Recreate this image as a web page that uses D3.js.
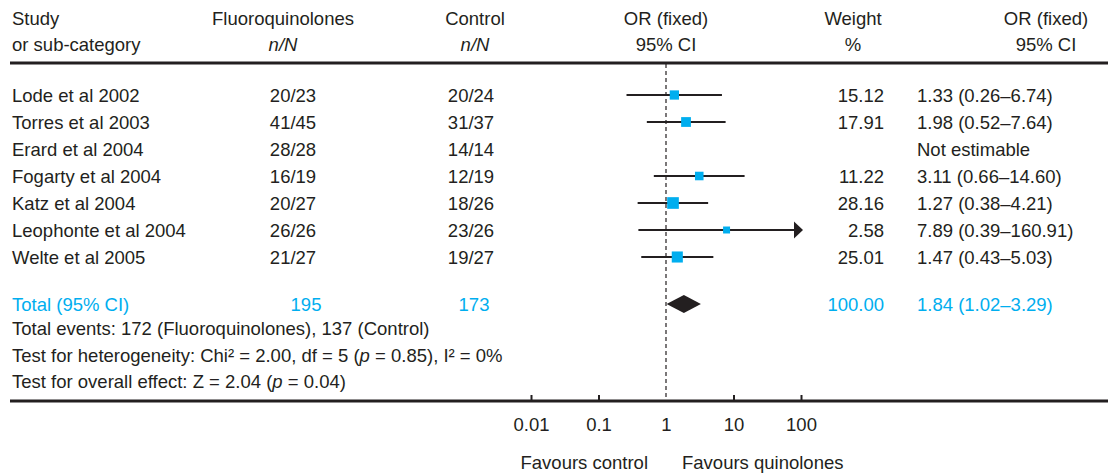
<!DOCTYPE html>
<html>
<head>
<meta charset="utf-8">
<script src="https://cdn.jsdelivr.net/npm/d3@7"></script>
<style>
  body { margin: 0; background: #fff; }
  svg text { font-family: "Liberation Sans", Arial, sans-serif; font-size: 18.5px; fill: #231f20; }
</style>
</head>
<body>
<svg id="chart" width="1119" height="474"></svg>
<script>
// study rows
var studies = ["Lode et al 2002", "Torres et al 2003", "Erard et al 2004", "Fogarty et al 2004",
               "Katz et al 2004", "Leophonte et al 2004", "Welte et al 2005"];
var fqEvents = [20, 41, 28, 16, 20, 26, 21];
var fqTotal  = [23, 45, 28, 19, 27, 26, 27];
var ctEvents = [20, 31, 14, 12, 18, 23, 19];
var ctTotal  = [24, 37, 14, 19, 26, 26, 27];
var weights  = [15.12, 17.91, null, 11.22, 28.16, 2.58, 25.01];
var orValue  = [1.33, 1.98, null, 3.11, 1.27, 7.89, 1.47];
var orLow    = [0.26, 0.52, null, 0.66, 0.38, 0.39, 0.43];
var orHigh   = [6.74, 7.64, null, 14.60, 4.21, 160.91, 5.03];

// pooled result
var totalFq = 195, totalCt = 173, totalWeight = 100.00;
var totalOr = 1.84, totalLow = 1.02, totalHigh = 3.29;

// axis ticks
var axisTicks = [0.01, 0.1, 1, 10, 100];
var axisLabels = ["0.01", "0.1", "1", "10", "100"];

var dark = "#231f20", blue = "#00aeef";
var svg = d3.select("#chart");

var x = d3.scaleLog().domain([0.01, 100]).range([531, 801]);
var y = d3.scalePoint().domain(studies).range([95, 257]);
var boxSize = d3.scaleLinear().domain([0, 30]).range([6.5, 12]);

var fmt2 = d3.format(".2f");
var ciText = function(o, l, h) { return fmt2(o) + " (" + fmt2(l) + "\u2013" + fmt2(h) + ")"; };

// header
var header = svg.append("g");
function headText(xx, yy, txt, anchor, italic) {
	return header.append("text").attr("x", xx).attr("y", yy)
		.attr("text-anchor", anchor || "middle")
		.style("font-style", italic ? "italic" : null)
		.text(txt);
}
headText(12, 25, "Study", "start");
headText(12, 51, "or sub-category", "start");
headText(283, 25, "Fluoroquinolones");
headText(283, 51, "n/N", "middle", true);
headText(475, 25, "Control");
headText(475, 51, "n/N", "middle", true);
headText(666, 25, "OR (fixed)");
headText(666, 51, "95% CI");
headText(853, 25, "Weight");
headText(853, 51, "%");
headText(1046, 25, "OR (fixed)");
headText(1046, 51, "95% CI");

svg.append("line").attr("x1", 10).attr("x2", 1108).attr("y1", 63).attr("y2", 63)
	.attr("stroke", dark).attr("stroke-width", 3);

// reference line at OR = 1
svg.append("line").attr("x1", x(1)).attr("x2", x(1)).attr("y1", 64).attr("y2", 400)
	.attr("stroke", dark).attr("stroke-width", 1.2).attr("stroke-dasharray", "4,3");

// table rows
var rows = svg.append("g").selectAll("g").data(studies).enter().append("g");
rows.append("text").attr("x", 12).attr("y", function(d) { return y(d) + 7; }).text(function(d) { return d; });
rows.append("text").attr("x", 293).attr("y", function(d) { return y(d) + 7; }).attr("text-anchor", "middle")
	.text(function(d, i) { return fqEvents[i] + "/" + fqTotal[i]; });
rows.append("text").attr("x", 471).attr("y", function(d) { return y(d) + 7; }).attr("text-anchor", "middle")
	.text(function(d, i) { return ctEvents[i] + "/" + ctTotal[i]; });
rows.append("text").attr("x", 884).attr("y", function(d) { return y(d) + 7; }).attr("text-anchor", "end")
	.text(function(d, i) { return weights[i] == null ? "" : fmt2(weights[i]); });
rows.append("text").attr("x", 917).attr("y", function(d) { return y(d) + 7; })
	.text(function(d, i) { return orValue[i] == null ? "Not estimable" : ciText(orValue[i], orLow[i], orHigh[i]); });

// confidence intervals
var xMax = x.domain()[1];
rows.filter(function(d, i) { return orValue[i] != null; }).each(function(d) {
	var i = studies.indexOf(d);
	var g = d3.select(this);
	var clipped = orHigh[i] > xMax;
	var xr = clipped ? x(xMax) - 6 : x(orHigh[i]);
	g.append("line").attr("x1", x(orLow[i])).attr("x2", xr).attr("y1", y(d)).attr("y2", y(d))
		.attr("stroke", dark).attr("stroke-width", 2);
	if (clipped) {
		var tip = x(xMax) + 2;
		g.append("path").attr("d", "M" + (tip - 9) + "," + (y(d) - 8.5) + "L" + tip + "," + y(d) + "L" + (tip - 9) + "," + (y(d) + 8.5) + "Z")
			.attr("fill", dark);
	}
	var s = boxSize(weights[i]);
	g.append("rect").attr("x", x(orValue[i]) - s / 2).attr("y", y(d) - s / 2)
		.attr("width", s).attr("height", s).attr("fill", blue);
});

// total row
var totalY = 304;
var tot = svg.append("g");
tot.append("text").attr("x", 12).attr("y", totalY + 7).style("fill", blue).text("Total (95% CI)");
tot.append("text").attr("x", 306).attr("y", totalY + 7).attr("text-anchor", "middle").style("fill", blue).text(totalFq);
tot.append("text").attr("x", 474).attr("y", totalY + 7).attr("text-anchor", "middle").style("fill", blue).text(totalCt);
tot.append("text").attr("x", 884).attr("y", totalY + 7).attr("text-anchor", "end").style("fill", blue).text(fmt2(totalWeight));
tot.append("text").attr("x", 917).attr("y", totalY + 7).style("fill", blue).text(ciText(totalOr, totalLow, totalHigh));

svg.append("path")
	.attr("d", "M" + x(totalLow) + "," + totalY + "L" + x(totalOr) + "," + (totalY - 9) +
		"L" + x(totalHigh) + "," + totalY + "L" + x(totalOr) + "," + (totalY + 9) + "Z")
	.attr("fill", dark);

// summary lines
svg.append("text").attr("x", 12).attr("y", 335).text("Total events: 172 (Fluoroquinolones), 137 (Control)");
var het = svg.append("text").attr("x", 12).attr("y", 362);
het.append("tspan").text("Test for heterogeneity: Chi\u00b2 = 2.00, df = 5 (");
het.append("tspan").style("font-style", "italic").text("p");
het.append("tspan").text(" = 0.85), I\u00b2 = 0%");
var eff = svg.append("text").attr("x", 12).attr("y", 388);
eff.append("tspan").text("Test for overall effect: Z = 2.04 (");
eff.append("tspan").style("font-style", "italic").text("p");
eff.append("tspan").text(" = 0.04)");

// axis
svg.append("line").attr("x1", 10).attr("x2", 1108).attr("y1", 401).attr("y2", 401)
	.attr("stroke", dark).attr("stroke-width", 3);
var axis = svg.append("g").attr("transform", "translate(0,401)")
	.call(d3.axisBottom(x).tickValues(axisTicks)
		.tickFormat(function(d, i) { return axisLabels[i]; })
		.tickSizeInner(-6).tickSizeOuter(0).tickPadding(17));
axis.select(".domain").remove();
axis.selectAll(".tick line").attr("stroke", dark).attr("stroke-width", 2)
	.filter(function(d) { return d === 1; }).remove();
axis.selectAll(".tick text").attr("font-family", null).attr("font-size", null).style("fill", dark);

svg.append("text").attr("x", 648).attr("y", 469).attr("text-anchor", "end").text("Favours control");
svg.append("text").attr("x", 682).attr("y", 469).text("Favours quinolones");
</script>
</body>
</html>
